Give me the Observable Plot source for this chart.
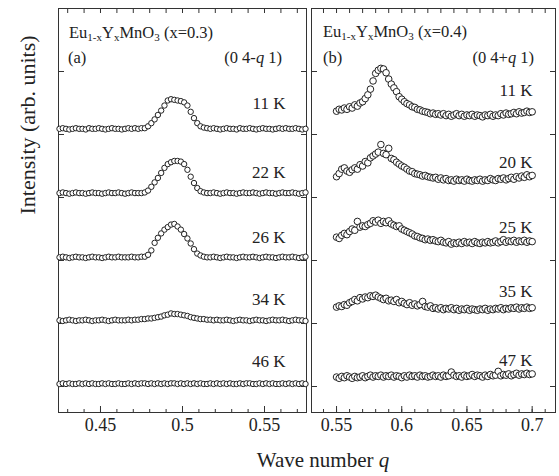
<!DOCTYPE html>
<html><head><meta charset="utf-8">
<script src="https://cdn.jsdelivr.net/npm/d3@7"></script>
<script src="https://cdn.jsdelivr.net/npm/@observablehq/plot@0.6"></script>
<style>
body{margin:0;background:#fff;}
#wrap{position:relative;width:559px;height:476px;font-family:"Liberation Serif","Times New Roman",serif;color:#222;overflow:hidden;}
#wrap svg{position:absolute;top:0;}
#wrap svg text{font-family:"Liberation Serif","Times New Roman",serif !important;}
.ann{position:absolute;font-size:16.5px;white-space:nowrap;line-height:1;}
.ann sub{font-size:11px;vertical-align:-3px;line-height:0;}
</style></head><body><div id="wrap"></div>
<script>
// ---- data ----
const qA = [0.425,0.427,0.429,0.431,0.433,0.435,0.437,0.439,0.441,0.443,
0.445,0.447,0.449,0.451,0.453,0.455,0.457,0.459,0.461,0.463,
0.465,0.467,0.469,0.471,0.473,0.475,0.477,0.479,0.481,0.483,
0.485,0.487,0.489,0.491,0.493,0.495,0.497,0.499,0.501,0.503,
0.505,0.507,0.509,0.511,0.513,0.515,0.517,0.519,0.521,0.523,
0.525,0.527,0.529,0.531,0.533,0.535,0.537,0.539,0.541,0.543,
0.545,0.547,0.549,0.551,0.553,0.555,0.557,0.559,0.561,0.563,
0.565,0.567,0.569,0.571,0.573,0.575];
const qB = [0.550,0.552,0.554,0.556,0.558,0.560,0.562,0.564,0.566,0.568,
0.570,0.572,0.574,0.576,0.578,0.580,0.582,0.584,0.586,0.588,
0.590,0.592,0.594,0.596,0.598,0.600,0.602,0.604,0.606,0.608,
0.610,0.612,0.614,0.616,0.618,0.620,0.622,0.624,0.626,0.628,
0.630,0.632,0.634,0.636,0.638,0.640,0.642,0.644,0.646,0.648,
0.650,0.652,0.654,0.656,0.658,0.660,0.662,0.664,0.666,0.668,
0.670,0.672,0.674,0.676,0.678,0.680,0.682,0.684,0.686,0.688,
0.690,0.692,0.694,0.696,0.698,0.700];
const tempsA = ["11 K","22 K","26 K","34 K","46 K"];
const tempsB = ["11 K","20 K","25 K","35 K","47 K"];
const offsets = [4,3,2,1,0];
const a11 = [0.09,0.10,0.09,0.08,0.09,0.10,0.09,0.09,0.08,0.10,
0.09,0.09,0.10,0.09,0.08,0.09,0.10,0.09,0.09,0.08,
0.09,0.10,0.09,0.10,0.09,0.10,0.10,0.13,0.18,0.24,
0.31,0.38,0.46,0.54,0.56,0.55,0.54,0.53,0.51,0.46,
0.36,0.26,0.18,0.13,0.11,0.10,0.09,0.10,0.09,0.08,
0.09,0.10,0.09,0.09,0.08,0.10,0.09,0.09,0.10,0.09,
0.08,0.09,0.10,0.09,0.09,0.08,0.09,0.10,0.09,0.10,
0.09,0.09,0.10,0.09,0.08,0.09];
const a22 = [0.07,0.08,0.07,0.06,0.07,0.08,0.07,0.07,0.06,0.07,
0.08,0.07,0.07,0.06,0.07,0.08,0.07,0.07,0.08,0.07,
0.06,0.07,0.08,0.07,0.07,0.07,0.08,0.11,0.17,0.24,
0.31,0.39,0.47,0.53,0.56,0.58,0.58,0.57,0.53,0.44,
0.33,0.23,0.15,0.10,0.08,0.07,0.07,0.08,0.07,0.06,
0.07,0.08,0.07,0.07,0.06,0.07,0.08,0.07,0.07,0.08,
0.07,0.06,0.07,0.08,0.07,0.07,0.06,0.07,0.08,0.07,
0.07,0.08,0.07,0.06,0.07,0.08];
const a26 = [0.05,0.06,0.05,0.04,0.05,0.06,0.05,0.05,0.04,0.05,
0.06,0.05,0.05,0.04,0.05,0.06,0.05,0.05,0.06,0.05,
0.05,0.05,0.06,0.05,0.05,0.06,0.06,0.09,0.16,0.28,
0.36,0.43,0.49,0.53,0.57,0.58,0.54,0.49,0.42,0.35,
0.27,0.18,0.11,0.08,0.06,0.05,0.05,0.06,0.05,0.04,
0.05,0.06,0.05,0.05,0.04,0.05,0.06,0.05,0.05,0.06,
0.05,0.04,0.05,0.06,0.05,0.05,0.04,0.05,0.06,0.05,
0.05,0.06,0.05,0.04,0.05,0.06];
const a34 = [0.05,0.04,0.05,0.06,0.05,0.04,0.05,0.05,0.06,0.05,
0.04,0.05,0.05,0.06,0.05,0.04,0.05,0.06,0.05,0.05,
0.05,0.06,0.05,0.06,0.06,0.07,0.07,0.08,0.08,0.09,
0.10,0.11,0.13,0.14,0.16,0.15,0.15,0.14,0.13,0.12,
0.10,0.09,0.08,0.07,0.07,0.06,0.06,0.05,0.06,0.05,
0.05,0.06,0.05,0.04,0.05,0.06,0.05,0.05,0.04,0.05,
0.06,0.05,0.05,0.04,0.05,0.06,0.05,0.05,0.06,0.05,
0.04,0.05,0.06,0.05,0.05,0.04];
const a46 = [0.04,0.05,0.04,0.05,0.04,0.04,0.05,0.04,0.05,0.04,
0.05,0.04,0.04,0.05,0.04,0.05,0.04,0.04,0.05,0.04,
0.04,0.05,0.04,0.05,0.04,0.05,0.05,0.04,0.05,0.04,
0.05,0.04,0.05,0.04,0.05,0.05,0.04,0.05,0.04,0.05,
0.04,0.05,0.04,0.05,0.04,0.04,0.05,0.04,0.05,0.04,
0.05,0.04,0.05,0.04,0.04,0.05,0.04,0.05,0.05,0.04,
0.04,0.05,0.04,0.05,0.04,0.05,0.04,0.04,0.05,0.04,
0.05,0.04,0.05,0.04,0.05,0.04];
const b11 = [0.37,0.40,0.39,0.42,0.40,0.44,0.42,0.47,0.45,0.50,
0.52,0.57,0.63,0.72,0.85,0.97,1.02,1.05,1.04,0.98,
0.88,0.80,0.74,0.68,0.60,0.56,0.52,0.49,0.47,0.44,
0.43,0.40,0.39,0.37,0.36,0.35,0.33,0.34,0.32,0.33,
0.31,0.33,0.30,0.32,0.29,0.31,0.33,0.30,0.32,0.29,
0.31,0.30,0.32,0.29,0.31,0.30,0.28,0.31,0.30,0.32,
0.29,0.31,0.30,0.33,0.31,0.34,0.32,0.33,0.35,0.33,
0.36,0.34,0.35,0.37,0.35,0.36];
const b20 = [0.33,0.38,0.45,0.47,0.42,0.40,0.44,0.47,0.45,0.52,
0.50,0.57,0.55,0.63,0.66,0.69,0.72,0.84,0.70,0.68,
0.78,0.62,0.60,0.56,0.53,0.50,0.48,0.45,0.42,0.41,
0.38,0.37,0.36,0.34,0.35,0.33,0.32,0.31,0.32,0.29,
0.31,0.28,0.30,0.27,0.28,0.26,0.29,0.27,0.28,0.26,
0.29,0.27,0.26,0.28,0.27,0.29,0.26,0.28,0.27,0.30,
0.28,0.27,0.30,0.29,0.31,0.28,0.30,0.32,0.29,0.33,
0.31,0.34,0.32,0.36,0.33,0.35];
const b25 = [0.37,0.35,0.40,0.43,0.41,0.46,0.50,0.48,0.62,0.53,
0.55,0.54,0.57,0.59,0.63,0.61,0.64,0.59,0.62,0.60,
0.63,0.58,0.56,0.54,0.55,0.50,0.48,0.46,0.44,0.42,
0.39,0.38,0.36,0.35,0.33,0.34,0.32,0.33,0.31,0.30,
0.32,0.29,0.28,0.30,0.26,0.28,0.27,0.29,0.27,0.30,
0.28,0.29,0.27,0.30,0.28,0.27,0.29,0.28,0.30,0.28,
0.29,0.31,0.28,0.30,0.33,0.29,0.31,0.30,0.32,0.29,
0.31,0.30,0.32,0.29,0.31,0.30];
const b35 = [0.26,0.28,0.27,0.30,0.29,0.33,0.35,0.38,0.36,0.41,
0.39,0.42,0.41,0.44,0.43,0.45,0.42,0.40,0.38,0.40,
0.36,0.37,0.35,0.38,0.33,0.35,0.32,0.30,0.33,0.29,
0.31,0.28,0.30,0.35,0.27,0.26,0.28,0.24,0.25,0.23,
0.25,0.22,0.24,0.23,0.25,0.22,0.24,0.21,0.23,0.22,
0.24,0.21,0.23,0.22,0.21,0.23,0.22,0.24,0.21,0.23,
0.22,0.24,0.23,0.25,0.22,0.24,0.23,0.25,0.24,0.26,
0.23,0.25,0.24,0.26,0.24,0.25];
const b47 = [0.15,0.13,0.16,0.14,0.17,0.15,0.13,0.16,0.14,0.15,
0.17,0.14,0.16,0.18,0.15,0.17,0.16,0.18,0.15,0.17,
0.16,0.18,0.15,0.17,0.16,0.14,0.17,0.15,0.18,0.16,
0.17,0.15,0.18,0.16,0.17,0.15,0.16,0.18,0.16,0.17,
0.15,0.18,0.16,0.17,0.23,0.18,0.16,0.17,0.15,0.18,
0.16,0.17,0.19,0.16,0.18,0.17,0.15,0.18,0.16,0.19,
0.17,0.18,0.24,0.17,0.19,0.18,0.20,0.17,0.19,0.21,
0.18,0.20,0.19,0.21,0.19,0.20];
const seriesA = [a11,a22,a26,a34,a46];
const seriesB = [b11,b20,b25,b35,b47];
const majorA = [0.45,0.5,0.55];
const minorA = [0.43,0.44,0.45,0.46,0.47,0.48,0.49,0.5,0.51,0.52,0.53,0.54,0.55,0.56,0.57];
const majorB = [0.55,0.6,0.65,0.7];
const minorB = [0.54,0.55,0.56,0.57,0.58,0.59,0.6,0.61,0.62,0.63,0.64,0.65,0.66,0.67,0.68,0.69,0.7,0.71];
const yTicks = [0,1,2,3,4,5];

// ---- layout ----
const liftA = [0.49,0.40,0.37,0.38,0.39];
const liftB = [0.70,0.56,0.52,0.50,0.41];
const H = 476, MT = 8, MB = 64;
const yDomain = [-26/63, 6];
const SERIF = "Liberation Serif";

function rows(series, q) {
  return series.flatMap((arr, s) => arr.map((v, i) => ({q: q[i], y: offsets[s] + v, s})));
}

function panel(o) {
  const idx = [0,1,2,3,4];
  const marks = [
    Plot.frame({stroke: "#333", strokeWidth: 1}),
    Plot.axisX({ticks: o.minor, anchor: "bottom", tickSize: -3, tickFormat: () => "", stroke: "#333"}),
    Plot.axisX({ticks: o.minor, anchor: "top", tickSize: -4, tickFormat: () => "", stroke: "#333"}),
    Plot.axisX({ticks: o.major, anchor: "bottom", tickSize: -6, tickPadding: 12, tickFormat: d => String(d), stroke: "#333", fill: "#222", fontSize: 18, fontFamily: SERIF}),
    Plot.axisY({ticks: yTicks, anchor: "left", tickSize: -6, tickFormat: () => "", stroke: "#333"}),
    Plot.axisY({ticks: yTicks, anchor: "right", tickSize: -6, tickFormat: () => "", stroke: "#333"}),
    Plot.dot(o.rows, {x: "q", y: "y", r: o.r, stroke: "#222", fill: "white", strokeWidth: 1}),
    Plot.text(idx, {y: i => offsets[i] + o.lift[i], text: i => o.temps[i], frameAnchor: "right", textAnchor: "end", dx: o.labelDx, fontSize: 17, fontFamily: SERIF, fill: "#222"})
  ];
  if (o.extra) marks.push(...o.extra);
  return Plot.plot({
    width: o.width, height: H,
    marginLeft: o.ml, marginRight: o.mr, marginTop: MT, marginBottom: MB,
    style: {fontFamily: SERIF, fontSize: "18px", color: "#222", background: "transparent", overflow: "visible"},
    x: {domain: o.domain, label: null},
    y: {domain: yDomain, label: null},
    marks
  });
}

const wrap = document.getElementById("wrap");
const left = panel({
  width: 308, ml: 58, mr: 2, domain: [0.4244, 0.5756],
  rows: rows(seriesA, qA), major: majorA, minor: minorA, temps: tempsA, lift: liftA, r: 2.7, labelDx: -21,
  extra: [Plot.text(["Intensity (arb. units)"], {frameAnchor: "left", rotate: -90, dx: -31, dy: 4, fontSize: 22, fontFamily: SERIF, fill: "#222"})]
});
left.style.left = "0px";
const right = panel({
  width: 251, ml: 3, mr: 4, domain: [0.5308, 0.7179],
  rows: rows(seriesB, qB), major: majorB, minor: minorB, temps: tempsB, lift: liftB, r: 3.3, labelDx: -23
});
right.style.left = "308px";
wrap.appendChild(left);
wrap.appendChild(right);

function ann(html, css) {
  const d = document.createElement("div");
  d.className = "ann";
  d.innerHTML = html;
  Object.assign(d.style, css);
  wrap.appendChild(d);
}
ann("Eu<sub>1-x</sub>Y<sub>x</sub>MnO<sub>3</sub> (x=0.3)", {left: "69px", top: "25px"});
ann("(a)", {left: "68px", top: "50px"});
ann("(0 4-<i>q</i> 1)", {right: "277px", top: "50px"});
ann("Eu<sub>1-x</sub>Y<sub>x</sub>MnO<sub>3</sub> (x=0.4)", {left: "323px", top: "24px"});
ann("(b)", {left: "323px", top: "50px"});
ann("(0 4+<i>q</i> 1)", {right: "25px", top: "50px"});
ann("Wave number <i>q</i>", {left: "323px", top: "450px", fontSize: "21px", transform: "translateX(-50%)"});
</script>
</body></html>
